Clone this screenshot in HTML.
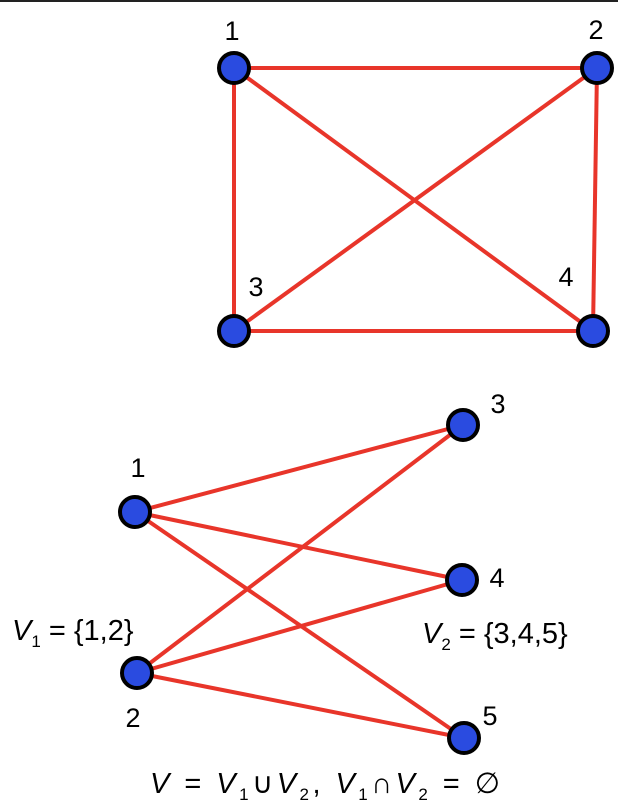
<!DOCTYPE html>
<html><head><style>
body{margin:0;background:#fff;}
svg{display:block}
text{font-family:"Liberation Sans",sans-serif;fill:#000}
</style></head><body>
<svg width="618" height="812" viewBox="0 0 618 812">
<rect x="0" y="0" width="618" height="2" fill="#222"/>
<g stroke="#e8352a" stroke-width="4" fill="none">
<line x1="234" y1="68" x2="597" y2="68"/>
<line x1="234" y1="68" x2="234" y2="331"/>
<line x1="234" y1="68" x2="593" y2="331"/>
<line x1="597" y1="68" x2="234" y2="331"/>
<line x1="597" y1="68" x2="593" y2="331"/>
<line x1="234" y1="331" x2="593" y2="331"/>
<line x1="135" y1="512" x2="463" y2="425"/>
<line x1="135" y1="512" x2="462" y2="580"/>
<line x1="135" y1="512" x2="464" y2="738"/>
<line x1="137" y1="673" x2="463" y2="425"/>
<line x1="137" y1="673" x2="462" y2="580"/>
<line x1="137" y1="673" x2="464" y2="738"/>
</g>
<g fill="#2a4be0" stroke="#000" stroke-width="4">
<circle cx="234" cy="68" r="15"/>
<circle cx="597" cy="68" r="15"/>
<circle cx="234" cy="331" r="15"/>
<circle cx="593" cy="331" r="15"/>
<circle cx="135" cy="512" r="15"/>
<circle cx="137" cy="673" r="15"/>
<circle cx="463" cy="425" r="15"/>
<circle cx="462" cy="580" r="15"/>
<circle cx="464" cy="738" r="15"/>
</g>
<g font-size="27" text-anchor="middle">
<text x="232" y="40">1</text>
<text x="596" y="39">2</text>
<text x="256" y="296">3</text>
<text x="566" y="286">4</text>
<text x="138" y="477">1</text>
<text x="133" y="727">2</text>
<text x="498" y="413">3</text>
<text x="497" y="587">4</text>
<text x="490" y="725">5</text>
</g>
<g font-size="29">
<text x="12" y="640"><tspan font-style="italic">V</tspan><tspan font-size="17" dy="7">1</tspan><tspan dy="-7"> = {1,2}</tspan></text>
<text x="422" y="643"><tspan font-style="italic">V</tspan><tspan font-size="17" dy="7">2</tspan><tspan dy="-7"> = {3,4,5}</tspan></text>
<text x="150" y="793" textLength="350" lengthAdjust="spacing"><tspan font-style="italic">V</tspan><tspan> = </tspan><tspan font-style="italic">V</tspan><tspan font-size="17" dy="7">1</tspan><tspan dy="-7">∪</tspan><tspan font-style="italic">V</tspan><tspan font-size="17" dy="7">2</tspan><tspan dy="-7">,  </tspan><tspan font-style="italic">V</tspan><tspan font-size="17" dy="7">1</tspan><tspan dy="-7">∩</tspan><tspan font-style="italic">V</tspan><tspan font-size="17" dy="7">2</tspan><tspan dy="-7"> = ∅</tspan></text>
</g>
</svg>
</body></html>
